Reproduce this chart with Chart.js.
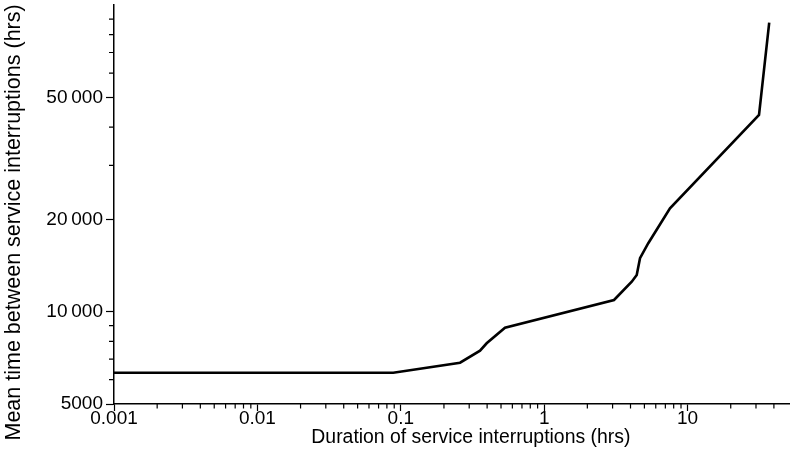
<!DOCTYPE html>
<html><head><meta charset="utf-8">
<script src="https://cdn.jsdelivr.net/npm/chart.js@4.4.0/dist/chart.umd.min.js"></script>
<style>html,body{margin:0;padding:0;background:#fff;} #wrap{width:790px;height:474px;position:relative;}</style>
</head><body><div id="wrap"><canvas id="c"></canvas></div>
<script>
// Duration of service interruptions (hrs) vs mean time between service interruptions (hrs)
const durationHrs = [0.001, 0.0886, 0.259, 0.357, 0.397, 0.533, 3.07, 4.08, 4.42, 4.66, 5.32, 7.54, 31.5, 37.1];
const mtbsiHrs    = [6324, 6324, 6819, 7462, 7889, 8867, 10917, 12527, 13176, 14937, 16720, 21740, 43820, 87600];

const xMajorTicks = [0.001, 0.01, 0.1, 1, 10];
const xTickLabels = ['0.001', '0.01', '0.1', '1', '10'];
const xMinorTicks = [0.002, 0.003, 0.004, 0.005, 0.006, 0.007, 0.008, 0.009,
                     0.02, 0.03, 0.04, 0.05, 0.06, 0.07, 0.08, 0.09,
                     0.2, 0.3, 0.4, 0.5, 0.6, 0.7, 0.8, 0.9,
                     2, 3, 4, 5, 6, 7, 8, 9,
                     20, 30, 40];
const yMajorTicks = [5000, 10000, 20000, 50000];
const yTickLabels = ['5000', '10\u2009000', '20\u2009000', '50\u2009000'];
const yMinorTicks = [6000, 7000, 8000, 9000, 30000, 40000, 60000, 70000, 80000, 90000];

const xTitle = 'Duration of service interruptions (hrs)';
const yTitle = 'Mean time between service interruptions (hrs)';

const FONT = '"Liberation Sans", Arial, Helvetica, sans-serif';
const NBSP = '\u00a0';

const points = durationHrs.map((d, i) => ({ x: d, y: mtbsiHrs[i] }));

const minorTickPlugin = {
  id: 'minorTicks',
  afterDraw(chart) {
    const { ctx } = chart;
    const xs = chart.scales.x, ys = chart.scales.y;
    ctx.save();
    ctx.strokeStyle = '#000';
    ctx.lineWidth = 1.2;
    ctx.beginPath();
    xMinorTicks.forEach(v => {
      const px = xs.getPixelForValue(v);
      ctx.moveTo(px, xs.top);
      ctx.lineTo(px, xs.top + 4.5);
    });
    yMinorTicks.forEach(v => {
      const py = ys.getPixelForValue(v);
      ctx.moveTo(ys.right, py);
      ctx.lineTo(ys.right - 5, py);
    });
    ctx.stroke();
    ctx.restore();
  }
};

new Chart(document.getElementById('c'), {
  type: 'scatter',
  data: {
    datasets: [{
      data: points,
      showLine: true,
      borderColor: '#000',
      backgroundColor: '#000',
      borderWidth: 2.6,
      pointRadius: 0,
      tension: 0
    }]
  },
  options: {
    responsive: true,
    maintainAspectRatio: false,
    animation: false,
    layout: { padding: { top: 5, right: 0, left: 0, bottom: 0 } },
    plugins: { legend: { display: false }, tooltip: { enabled: false } },
    scales: {
      x: {
        type: 'logarithmic',
        min: 0.001,
        max: 51.8,
        afterBuildTicks: s => { s.ticks = xMajorTicks.map(v => ({ value: v })); },
        afterFit: s => { s.height = 70; s.paddingLeft = 0; s.paddingRight = 0; },
        ticks: {
          callback: (v, i) => xTickLabels[i],
          autoSkip: false,
          maxRotation: 0,
          color: '#000',
          padding: -4,
          font: { family: FONT, size: 19 }
        },
        grid: { display: true, drawOnChartArea: false, drawTicks: true, tickLength: 7, tickColor: '#000', tickWidth: 1.2 },
        border: { display: true, color: '#000', width: 1.5 },
        title: { display: true, text: NBSP.repeat(7) + xTitle, color: '#000', font: { family: FONT, size: 19.4 }, padding: { top: 0, bottom: 25 } }
      },
      y: {
        type: 'logarithmic',
        min: 5000,
        max: 100000,
        afterBuildTicks: s => { s.ticks = yMajorTicks.map(v => ({ value: v })); },
        afterFit: s => { s.width = 114; s.paddingTop = 0; s.paddingBottom = 0; },
        ticks: {
          callback: (v, i) => yTickLabels[i],
          autoSkip: false,
          color: '#000',
          padding: 3,
          font: { family: FONT, size: 19 }
        },
        grid: { display: true, drawOnChartArea: false, drawTicks: true, tickLength: 8, tickColor: '#000', tickWidth: 1.2 },
        border: { display: true, color: '#000', width: 1.5 },
        title: { display: true, text: yTitle + NBSP.repeat(6), color: '#000', font: { family: FONT, size: 21.5 }, padding: { top: 1, bottom: 0 } }
      }
    }
  },
  plugins: [minorTickPlugin]
});
</script>
</body></html>
